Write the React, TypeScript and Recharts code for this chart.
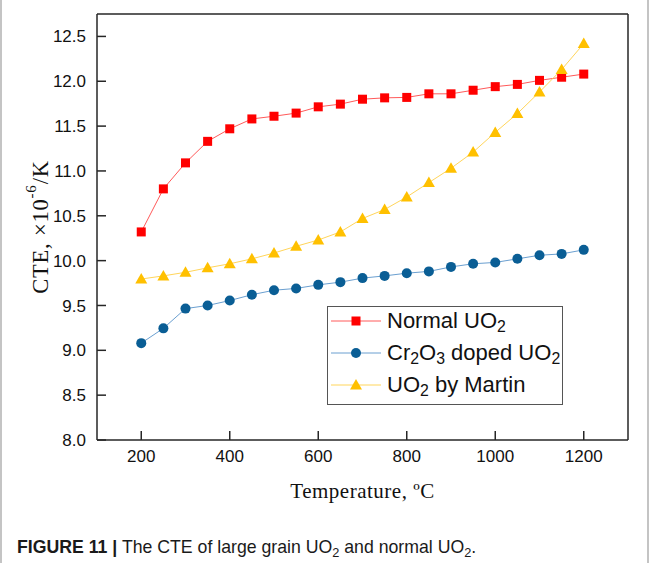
import React from "react";
import { LineChart, Line, XAxis, YAxis, Label } from "recharts";

// temperatures, °C
const temps = [200, 250, 300, 350, 400, 450, 500, 550, 600, 650, 700, 750, 800, 850, 900, 950, 1000, 1050, 1100, 1150, 1200];

// CTE, x10^-6 /K
const normalUO2 = [10.32, 10.8, 11.09, 11.33, 11.47, 11.58, 11.61, 11.645, 11.715, 11.745, 11.8, 11.815, 11.82, 11.86, 11.86, 11.9, 11.94, 11.965, 12.01, 12.045, 12.08];
const crDopedUO2 = [9.08, 9.245, 9.465, 9.5, 9.555, 9.62, 9.67, 9.69, 9.73, 9.76, 9.805, 9.83, 9.86, 9.88, 9.93, 9.965, 9.98, 10.02, 10.06, 10.075, 10.12];
const martinUO2 = [9.795, 9.83, 9.87, 9.92, 9.965, 10.02, 10.085, 10.16, 10.23, 10.32, 10.47, 10.57, 10.71, 10.87, 11.03, 11.21, 11.43, 11.64, 11.88, 12.13, 12.42];

const xMajorTicks = [200, 400, 600, 800, 1000, 1200];
const xMinorTicks = [100, 300, 500, 700, 900, 1100, 1300];
const yMajorTicks = [8.0, 8.5, 9.0, 9.5, 10.0, 10.5, 11.0, 11.5, 12.0, 12.5];
const yMinorTicks = [8.25, 8.75, 9.25, 9.75, 10.25, 10.75, 11.25, 11.75, 12.25, 12.75];

const data = temps.map((t, i) => ({
  T: t,
  normal: normalUO2[i],
  cr: crDopedUO2[i],
  martin: martinUO2[i],
}));

const RED = "#ff0000";
const BLUE = "#0a5e95";
const YELLOW = "#ffc000";
const AXIS = "#262626";
const SANS = '"Liberation Sans", Arial, sans-serif';
const SERIF = '"Liberation Serif", "Times New Roman", serif';

const SquareDot = (p: any) =>
  p.cx == null ? null : <rect key={p.index} x={p.cx - 4.5} y={p.cy - 4.5} width={9} height={9} fill={RED} />;
const CircleDot = (p: any) =>
  p.cx == null ? null : <circle key={p.index} cx={p.cx} cy={p.cy} r={5} fill={BLUE} />;
const TriangleDot = (p: any) =>
  p.cx == null ? null : (
    <polygon
      key={p.index}
      points={`${p.cx},${p.cy - 6} ${p.cx - 6},${p.cy + 4.5} ${p.cx + 6},${p.cy + 4.5}`}
      fill={YELLOW}
    />
  );

const tickStyle = { fontFamily: SANS, fontSize: 17, fill: "#111" };
const axisLine = { stroke: AXIS, strokeWidth: 1.5 };

const sub = { fontSize: "0.72em", verticalAlign: "-0.28em", lineHeight: 0 } as const;

function LegendRow({ color, line, marker, children }: any) {
  return (
    <div style={{ display: "flex", alignItems: "center", height: 32 }}>
      <svg width={57} height={32} style={{ flex: "none" }}>
        <line x1={3} x2={53} y1={16} y2={16} stroke={line} strokeWidth={1} />
        {marker === "square" && <rect x={23.5} y={11.5} width={9} height={9} fill={color} />}
        {marker === "circle" && <circle cx={28} cy={16} r={5} fill={color} />}
        {marker === "triangle" && <polygon points="28,10 22,20.5 34,20.5" fill={color} />}
      </svg>
      <span style={{ marginLeft: 2, whiteSpace: "nowrap" }}>{children}</span>
    </div>
  );
}

export default function App() {
  return (
    <div style={{ position: "absolute", left: 0, top: 0, width: 653, height: 563, background: "#fff" }}>
      <div style={{ position: "absolute", left: 0, top: 0, width: 2, height: 563, background: "#c4c4c4" }} />
      <div style={{ position: "absolute", left: 647, top: 0, width: 2, height: 563, background: "#c4c4c4" }} />

      <LineChart width={653} height={520} data={data} margin={{ top: 12, right: 23, bottom: 78, left: 95 }}>
        {/* major axes */}
        <XAxis xAxisId="b" dataKey="T" type="number" domain={[100, 1300]} allowDataOverflow ticks={xMajorTicks}
          height={1} tick={tickStyle} tickSize={-9} tickMargin={19} axisLine={axisLine} tickLine={axisLine}>
          <Label
            content={({ viewBox }: any) => (
              <text x={viewBox.x + viewBox.width / 2} y={viewBox.y + 58} textAnchor="middle"
                style={{ fontFamily: SERIF, fontSize: 21, letterSpacing: 0.5, fill: "#111" }}>
                Temperature, ºC
              </text>
            )}
          />
        </XAxis>
        <XAxis xAxisId="t" dataKey="T" orientation="top" type="number" domain={[100, 1300]} allowDataOverflow
          ticks={xMajorTicks} height={1} tick={false} tickSize={-9} axisLine={axisLine} tickLine={axisLine} />
        <YAxis yAxisId="l" type="number" domain={[8, 12.75]} allowDataOverflow ticks={yMajorTicks}
          width={1} tick={tickStyle} tickSize={-9} tickMargin={20} tickFormatter={(v: number) => v.toFixed(1)}
          axisLine={axisLine} tickLine={axisLine}>
          <Label
            content={() => (
              <text x={40} y={227} textAnchor="middle" dominantBaseline="central" transform="rotate(-90 40 227)"
                style={{ fontFamily: SERIF, fontSize: 22.5, letterSpacing: 0.8, fill: "#111" }}>
                CTE, ×10<tspan dy={-9} fontSize={15}>-6</tspan><tspan dy={9}>/K</tspan>
              </text>
            )}
          />
        </YAxis>
        <YAxis yAxisId="r" orientation="right" type="number" domain={[8, 12.75]} allowDataOverflow ticks={yMajorTicks}
          width={1} tick={false} tickSize={-9} axisLine={axisLine} tickLine={axisLine} />

        {/* minor ticks */}
        <XAxis xAxisId="bm" dataKey="T" type="number" domain={[100, 1300]} allowDataOverflow ticks={xMinorTicks}
          height={1} tick={false} tickSize={-5} axisLine={false} tickLine={axisLine} />
        <XAxis xAxisId="tm" dataKey="T" orientation="top" type="number" domain={[100, 1300]} allowDataOverflow
          ticks={xMinorTicks} height={1} tick={false} tickSize={-5} axisLine={false} tickLine={axisLine} />
        <YAxis yAxisId="lm" type="number" domain={[8, 12.75]} allowDataOverflow ticks={yMinorTicks}
          width={1} tick={false} tickSize={-5} axisLine={false} tickLine={axisLine} />
        <YAxis yAxisId="rm" orientation="right" type="number" domain={[8, 12.75]} allowDataOverflow ticks={yMinorTicks}
          width={1} tick={false} tickSize={-5} axisLine={false} tickLine={axisLine} />

        <Line xAxisId="b" yAxisId="l" dataKey="normal" stroke="#ff5a5a" strokeWidth={1} dot={SquareDot}
          activeDot={false} isAnimationActive={false} />
        <Line xAxisId="b" yAxisId="l" dataKey="cr" stroke="#6a9fd0" strokeWidth={1} dot={CircleDot}
          activeDot={false} isAnimationActive={false} />
        <Line xAxisId="b" yAxisId="l" dataKey="martin" stroke="#ffd55a" strokeWidth={1} dot={TriangleDot}
          activeDot={false} isAnimationActive={false} />
      </LineChart>

      <div style={{ position: "absolute", left: 327, top: 306, width: 234, height: 97, border: "1px solid #555",
        background: "#fff", fontFamily: SANS, fontSize: 22, color: "#111", lineHeight: 1 }}>
        <div style={{ marginTop: -2 }}>
          <LegendRow color={RED} line="#ff5a5a" marker="square">Normal UO<span style={sub}>2</span></LegendRow>
          <LegendRow color={BLUE} line="#6a9fd0" marker="circle">
            Cr<span style={sub}>2</span>O<span style={sub}>3</span> doped UO<span style={sub}>2</span>
          </LegendRow>
          <LegendRow color={YELLOW} line="#ffd55a" marker="triangle">UO<span style={sub}>2</span> by Martin</LegendRow>
        </div>
      </div>

      <div style={{ position: "absolute", left: 17, top: 539, fontFamily: SANS, fontSize: 17.7, color: "#1a1a1a",
        whiteSpace: "nowrap", lineHeight: 1 }}>
        <b>FIGURE 11 |</b> The CTE of large grain UO<span style={sub}>2</span> and normal UO<span style={sub}>2</span>.
      </div>
    </div>
  );
}
